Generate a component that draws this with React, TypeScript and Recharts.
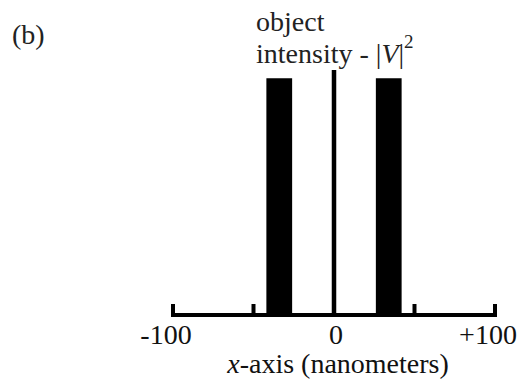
import React from 'react';
import { ComposedChart, Area, XAxis, YAxis, Label } from 'recharts';

// pulse edges along x (nm) and the intensity that starts at each edge (step after)
const edgeX = [-100, -42, -26, -1.4, 1.4, 26, 42, 100];
const intensity = [0, 1, 0, 1.035, 0, 1, 0, 0];

const xTicks = [-100, -50, 0, 50, 100];
const xTickLabels = ['-100', '', '0', '', '+100'];

const data = edgeX.map((x, i) => ({ x, v: intensity[i] }));

const FONT = '"Liberation Serif", "Times New Roman", serif';

const Tick = (props: any) => {
  const { x, y, payload } = props;
  const i = xTicks.indexOf(payload.value);
  const label = xTickLabels[i];
  const dx = payload.value === 0 ? 2 : -7;
  return (
    <g>
      {payload.value !== 0 && (
        <line x1={x} x2={x} y1={y + 2} y2={y - 11} stroke="#000" strokeWidth={4} />
      )}
      {label && (
        <text x={x + dx} y={y + 29} textAnchor="middle" fontFamily={FONT} fontSize={28} fill="#111">
          {label}
        </text>
      )}
    </g>
  );
};

const AxisTitle = (props: any) => {
  const { viewBox } = props;
  const cx = viewBox.x + viewBox.width / 2 + 4;
  return (
    <text x={cx} y={viewBox.y + 58} textAnchor="middle" fontFamily={FONT} fontSize={28} fill="#111">
      <tspan fontStyle="italic">x</tspan>
      <tspan>-axis (nanometers)</tspan>
    </text>
  );
};

export default function App() {
  return (
    <div style={{ position: 'absolute', left: 0, top: 0, background: '#fff' }}>
      <ComposedChart
        width={519}
        height={386}
        data={data}
        margin={{ top: 31, right: 24, bottom: 0, left: 173 }}
      >
        <XAxis
          dataKey="x"
          type="number"
          domain={[-100, 100]}
          ticks={xTicks}
          interval={0}
          tickSize={0}
          tickMargin={0}
          height={71}
          axisLine={{ stroke: '#000', strokeWidth: 4 }}
          tickLine={false}
          tick={<Tick />}
        >
          <Label content={<AxisTitle />} />
        </XAxis>
        <YAxis hide domain={[0, 1.2]} />
        <Area
          type="stepAfter"
          dataKey="v"
          stroke="none"
          fill="#000"
          fillOpacity={1}
          isAnimationActive={false}
        />
        <text x={12} y={44} fontFamily={FONT} fontSize={28} fill="#222">(b)</text>
        <text x={256} y={31} fontFamily={FONT} fontSize={28} fill="#222">object</text>
        <text x={256} y={63} fontFamily={FONT} fontSize={28} fill="#222">
          <tspan>intensity - |</tspan>
          <tspan fontStyle="italic">V</tspan>
          <tspan>|</tspan>
          <tspan dy={-15} fontSize={19}>2</tspan>
        </text>
      </ComposedChart>
    </div>
  );
}
